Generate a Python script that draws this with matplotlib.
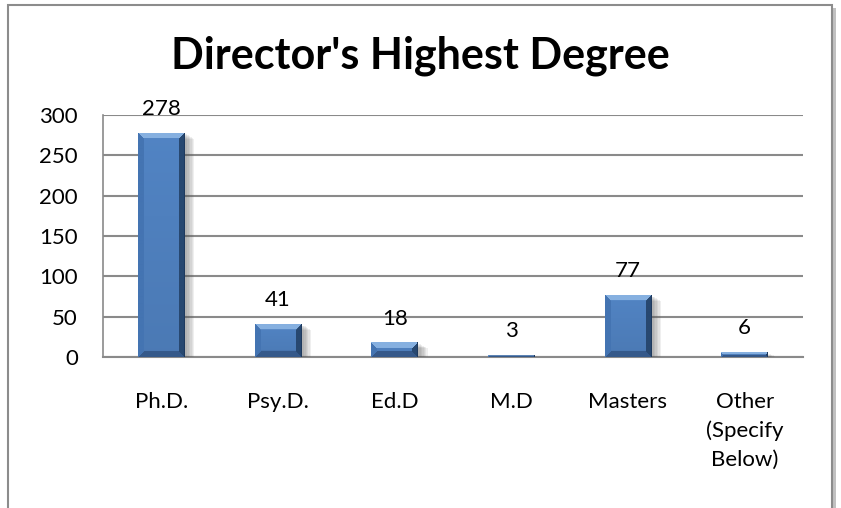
import numpy as np
import matplotlib.pyplot as plt
from matplotlib.patches import Rectangle
from matplotlib import patheffects as pe

categories = ["Ph.D.", "Psy.D.", "Ed.D", "M.D", "Masters", "Other\n(Specify\nBelow)"]
counts = [278, 41, 18, 3, 77, 6]
y_ticks = [0, 50, 100, 150, 200, 250, 300]

plt.rcParams['font.family'] = ['Lato', 'DejaVu Sans']

fig = plt.figure(figsize=(8.41, 5.08), dpi=100)
fig.patch.set_facecolor('white')

# chart frame with soft shadow on the right
frame = Rectangle((8 / 841, -0.05), 824 / 841, 1.04, transform=fig.transFigure,
                  facecolor='white', edgecolor='#8c8c8c', linewidth=1.5, zorder=-5,
                  path_effects=[pe.SimplePatchShadow(offset=(3, -2), shadow_rgbFace='#999999', alpha=0.6),
                                pe.Normal()])
fig.patches.append(frame)

ax = fig.add_axes([103 / 841, 1 - 357 / 508, 700 / 841, 242 / 508])
ax.set_facecolor('none')
ax.set_xlim(-0.5, len(categories) - 0.5)
ax.set_ylim(0, 300)

shadow_fx = [pe.SimplePatchShadow(offset=(d, -d * 0.6), shadow_rgbFace='#555555', alpha=0.09)
             for d in (7, 6, 5, 4, 3, 2)] + [pe.Normal()]

x = np.arange(len(categories))
bars = ax.bar(x, counts, width=0.4, color='#4f81bd', edgecolor='none', zorder=3,
              path_effects=shadow_fx)


def hexrgb(h):
    return np.array([int(h[i:i + 2], 16) for i in (1, 3, 5)]) / 255.0


face = hexrgb('#4f80be')
top_c = hexrgb('#86b0e0')
left_c = hexrgb('#4474b2')
right_c = hexrgb('#284870')
bot_c = hexrgb('#35598a')

# bevelled look, painted inside each bar at pixel resolution
for b in bars:
    x0, y0 = b.get_x(), b.get_y()
    w, h = b.get_width(), b.get_height()
    p0 = ax.transData.transform((x0, y0))
    p1 = ax.transData.transform((x0 + w, y0 + h))
    W = max(int(round(p1[0] - p0[0])), 2)
    H = max(int(round(p1[1] - p0[1])), 2)
    bev = min(6, W // 2, max(H // 2, 1))
    jj, ii = np.meshgrid(np.arange(W), np.arange(H))
    dist = np.stack([ii, jj, W - 1 - jj, H - 1 - ii])  # top, left, right, bottom
    edge = dist.argmin(axis=0)
    dmin = dist.min(axis=0)
    img = np.empty((H, W, 3))
    shade = 1.03 - 0.08 * (ii / max(H - 1, 1))
    img[:] = face * shade[..., None]
    for k, c in enumerate([top_c, left_c, right_c, bot_c]):
        m = (edge == k) & (dmin < bev)
        img[m] = c
    img[:, -1] = hexrgb('#1f3a5e')
    img = np.clip(img, 0, 1)
    im = ax.imshow(img, extent=(x0, x0 + w, y0, y0 + h), aspect='auto', zorder=3.5,
                   interpolation='bilinear')
    im.set_clip_path(b)

for xi, v in zip(x, counts):
    ax.annotate(str(v), (xi, v), xytext=(0, 10), textcoords='offset points',
                ha='center', va='bottom', fontsize=16)

ax.set_yticks(y_ticks)
ax.set_xticks(x)
ax.set_xticklabels(categories, fontsize=16, linespacing=1.55, va='top')
ax.tick_params(axis='y', labelsize=16, length=0, pad=18)
ax.tick_params(axis='x', length=0, pad=25)
ax.yaxis.grid(True, color='#8a8a8a', linewidth=1.5, zorder=0)
ax.set_axisbelow(True)
for s in ['top', 'right']:
    ax.spines[s].set_visible(False)
ax.spines['left'].set_color('#8a8a8a')
ax.spines['bottom'].set_color('#8a8a8a')
ax.spines['left'].set_linewidth(1.2)
ax.spines['bottom'].set_linewidth(1.5)

fig.text(0.5, 1 - 56 / 508, "Director's Highest Degree", ha='center', va='center',
         fontsize=31, fontweight='bold')

fig.savefig('out.png', dpi=100)
